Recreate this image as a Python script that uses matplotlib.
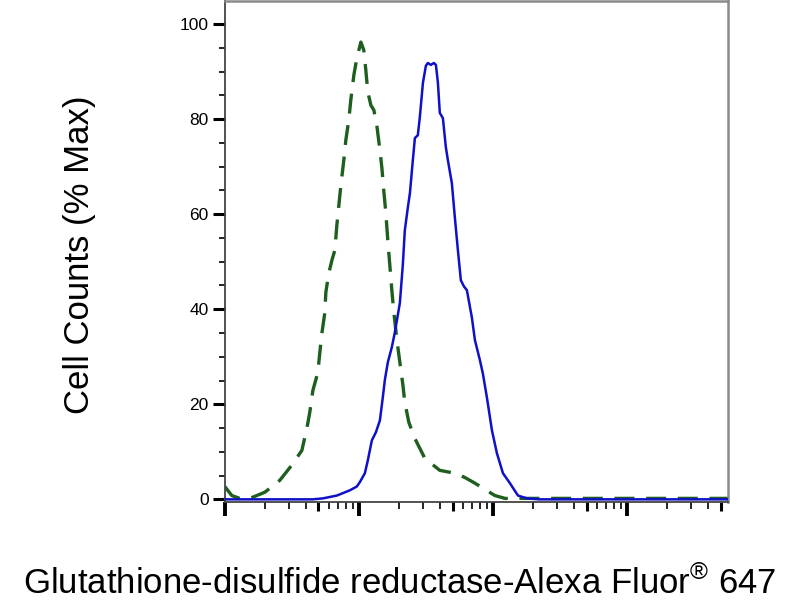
import numpy as np
import matplotlib
matplotlib.use("Agg")
import matplotlib.pyplot as plt
from matplotlib.ticker import FixedLocator, NullFormatter

plt.rcParams['font.family'] = ['Liberation Sans', 'DejaVu Sans']
plt.rcParams['mathtext.fontset'] = 'custom'
plt.rcParams['mathtext.rm'] = 'Liberation Sans'

# log10 of fluorescence intensity, % of max cell counts
ctrl_log = [0.000, 0.052, 0.112, 0.187, 0.299, 0.410, 0.500, 0.575, 0.612, 0.634,
            0.657, 0.694, 0.709, 0.724, 0.746, 0.754, 0.776, 0.799, 0.821, 0.836,
            0.851, 0.866, 0.888, 0.903, 0.925, 0.940, 0.963, 0.985, 1.015, 1.037,
            1.052, 1.067, 1.090, 1.112, 1.134, 1.157, 1.172, 1.187, 1.201, 1.216,
            1.231, 1.246, 1.261, 1.284, 1.306, 1.328, 1.343, 1.373, 1.418, 1.493,
            1.604, 1.716, 1.791, 1.866, 1.940, 2.015, 2.090, 2.500, 3.000, 3.754]
ctrl_pct = [2.7, 0.8, 0.2, 0.2, 1.5, 4.0, 7.2, 10.3, 14.9, 18.3,
            22.9, 26.7, 30.9, 34.9, 39.2, 43.6, 47.6, 50.3, 52.4, 57.7,
            61.9, 66.1, 71.4, 75.6, 79.8, 84.0, 89.3, 92.8, 96.2, 94.5,
            90.3, 85.7, 82.9, 81.9, 78.7, 73.5, 69.7, 64.6, 60.4, 54.5,
            49.3, 44.0, 39.4, 33.5, 28.8, 24.2, 20.4, 16.2, 12.8, 8.6,
            6.1, 5.5, 4.6, 3.4, 2.1, 0.8, 0.2, 0.2, 0.2, 0.2]

gsr_log = [0.000, 0.560, 0.657, 0.731, 0.836, 0.933, 0.985, 1.007, 1.045, 1.067,
           1.097, 1.127, 1.157, 1.179, 1.194, 1.216, 1.246, 1.269, 1.306, 1.328,
           1.343, 1.366, 1.381, 1.403, 1.418, 1.440, 1.455, 1.478, 1.500, 1.515,
           1.537, 1.560, 1.575, 1.590, 1.604, 1.627, 1.649, 1.664, 1.694, 1.716,
           1.739, 1.761, 1.784, 1.806, 1.843, 1.866, 1.903, 1.925, 1.955, 1.993,
           2.030, 2.075, 2.127, 2.187, 2.254, 2.351, 3.754]
gsr_pct = [0.0, 0.0, 0.0, 0.2, 0.8, 1.9, 2.7, 3.6, 5.5, 8.2,
           12.4, 14.1, 16.6, 21.5, 25.1, 28.8, 32.0, 35.2, 41.3, 49.3,
           56.6, 61.5, 64.4, 71.4, 76.0, 76.6, 80.4, 87.6, 91.2, 91.8,
           91.4, 91.8, 91.4, 87.6, 81.3, 80.2, 74.1, 71.4, 66.5, 59.4,
           52.4, 46.1, 44.8, 44.0, 38.3, 33.5, 29.3, 26.5, 21.5, 14.5,
           9.7, 5.5, 3.4, 0.8, 0.2, 0.0, 0.0]

y_ticks = [0, 20, 40, 60, 80, 100]

fig = plt.figure(figsize=(8, 6), dpi=100)
ax = fig.add_axes([0.281, 0.163, 0.629, 0.835])

ax.plot(10 ** np.array(gsr_log), gsr_pct, color='#1010c8', lw=1.8, zorder=3)
ax.plot(10 ** np.array(ctrl_log), ctrl_pct, color='#1e5e1e', lw=2.4,
        linestyle=(0, (6, 3.5)), zorder=2)

ax.set_xscale('log')
ax.set_xlim(1, 10 ** 3.754)
ax.set_ylim(-0.6, 104.8)

ax.xaxis.set_major_locator(FixedLocator([1, 10, 100, 1000]))
minor = [m * d for d in [1, 10, 100, 1000] for m in [2, 3, 4, 6, 7, 8, 9]]
ax.xaxis.set_minor_locator(FixedLocator([v for v in minor if v < 10 ** 3.754]))
ax.xaxis.set_major_formatter(NullFormatter())
ax.xaxis.set_minor_formatter(NullFormatter())
ax.tick_params(axis='x', which='major', length=10, width=2.8, color='black')
ax.tick_params(axis='x', which='minor', length=5, width=1.2, color='black')

# medium ticks at the 5s
sec = ax.secondary_xaxis('bottom')
sec.xaxis.set_major_locator(FixedLocator([5, 50, 500, 5000]))
sec.xaxis.set_major_formatter(NullFormatter())
sec.xaxis.set_minor_locator(FixedLocator([]))
sec.tick_params(axis='x', which='major', length=6.5, width=2.2, color='black')
sec.spines['bottom'].set_visible(False)

ax.set_yticks(y_ticks)
ax.set_yticks(np.arange(5, 105, 5), minor=True)
ax.tick_params(axis='y', which='major', length=8.5, width=2.2, labelsize=12.5,
               pad=3, color='black')
ax.tick_params(axis='y', which='minor', length=4.5, width=1.2, color='black')

for side in ['left', 'bottom']:
    ax.spines[side].set_color('#444444')
    ax.spines[side].set_linewidth(1.3)
for side in ['top', 'right']:
    ax.spines[side].set_color('#8a8a8a')
    ax.spines[side].set_linewidth(1.8)

ax.set_xlabel('Glutathione-disulfide reductase-Alexa Fluor$^{\\mathrm{®}}$ 647',
              fontsize=25)
ax.xaxis.set_label_coords(0.348, -0.127)
ax.set_ylabel('Cell Counts (% Max)', fontsize=25)
ax.yaxis.set_label_coords(-0.256, 0.493)

fig.savefig('out.png', dpi=100)
